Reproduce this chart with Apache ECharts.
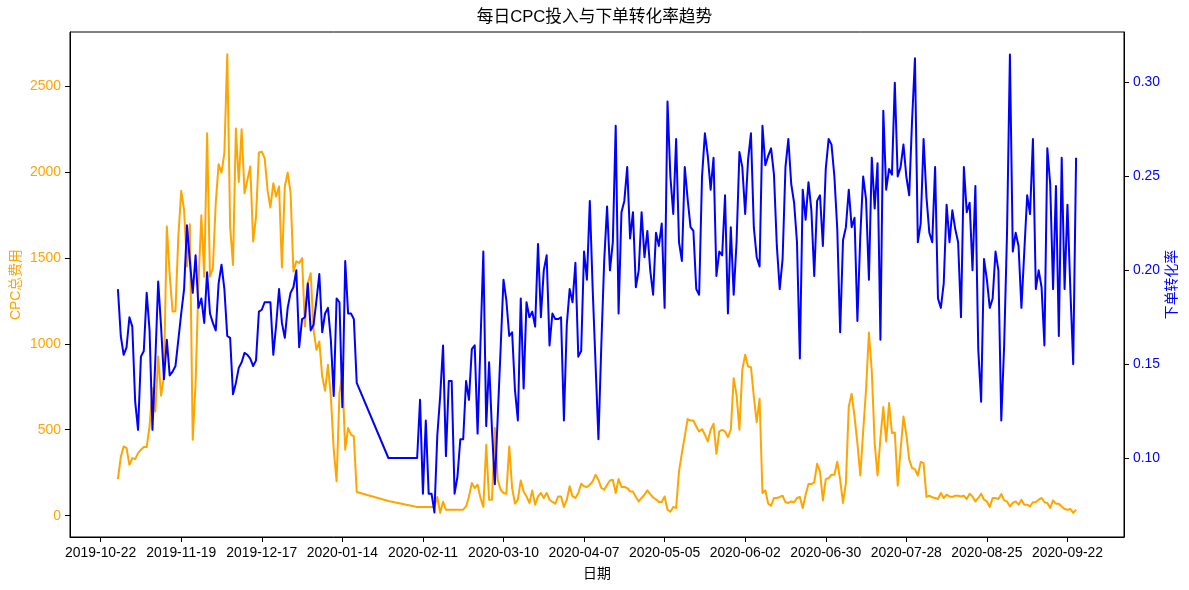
<!DOCTYPE html>
<html>
<head>
<meta charset="utf-8">
<script src="https://cdn.jsdelivr.net/npm/echarts@6/dist/echarts.min.js"></script>
<style>
  html, body { margin: 0; padding: 0; background: #fff; }
  #chart { width: 1189px; height: 590px; }
</style>
</head>
<body>
<div id="chart"></div>
<script>
// daily records, with a hole around the Spring Festival
const periods = [
  { start: '2019-10-28', days: 84 },
  { start: '2020-01-30', days: 1 },
  { start: '2020-02-09', days: 230 },
]

const tickDates = [
  '2019-10-22', '2019-11-19', '2019-12-17', '2020-01-14', '2020-02-11', '2020-03-10', '2020-04-07',
  '2020-05-05', '2020-06-02', '2020-06-30', '2020-07-28', '2020-08-25', '2020-09-22',
]
const costTicks = [0, 500, 1000, 1500, 2000, 2500]
const rateTicks = [0.10, 0.15, 0.20, 0.25, 0.30]

// CPC总费用
const cpcCost = [
  // 2019-10-28 .. 2020-01-19
  213, 341, 403, 393, 296, 335, 329, 364, 384, 399,
  399, 520, 742, 606, 926, 698, 810, 1682, 1400, 1188,
  1190, 1624, 1890, 1779, 1450, 1696, 442, 771, 1350, 1748,
  1390, 2225, 1390, 1440, 1818, 2045, 1996, 2109, 2684, 1682,
  1459, 2252, 1942, 2248, 1876, 1953, 2031, 1595, 1740, 2113,
  2118, 2080, 1895, 1793, 1934, 1857, 1915, 1444, 1915, 1996,
  1880, 1420, 1480, 1470, 1498, 1101, 1353, 1411, 1081, 965,
  1013, 810, 727, 878, 694, 384, 200, 713, 820, 384,
  510, 471, 461, 138,
  // 2020-01-30
  85,
  // 2020-02-09 .. 2020-09-25
  51, 51, 51, 50, 50, 50, 50, 109, 16, 81,
  35, 35, 35, 35, 35, 35, 35, 54, 112, 190,
  161, 180, 103, 51, 413, 93, 93, 510, 209, 151,
  132, 128, 403, 161, 70, 93, 205, 141, 112, 74,
  147, 64, 112, 132, 103, 132, 93, 80, 70, 112,
  112, 51, 93, 171, 112, 103, 132, 186, 171, 167,
  180, 200, 238, 209, 161, 151, 180, 205, 209, 132,
  213, 167, 167, 161, 141, 140, 109, 83, 103, 122,
  147, 125, 106, 95, 80, 80, 112, 35, 23, 51,
  45, 258, 364, 461, 562, 554, 554, 519, 490, 504,
  471, 432, 500, 535, 360, 490, 500, 490, 457, 500,
  800, 703, 500, 849, 936, 868, 864, 694, 543, 680,
  132, 147, 70, 58, 103, 103, 109, 116, 78, 74,
  83, 78, 103, 109, 45, 122, 184, 184, 194, 302,
  258, 89, 213, 219, 238, 238, 314, 209, 74, 190,
  636, 709, 577, 422, 234, 490, 733, 1066, 839, 422,
  234, 452, 632, 432, 655, 481, 484, 174, 380, 577,
  475, 326, 277, 271, 233, 312, 306, 109, 116, 107,
  103, 97, 132, 103, 122, 112, 109, 116, 116, 112,
  116, 97, 128, 112, 83, 103, 128, 93, 83, 51,
  103, 103, 97, 126, 89, 83, 54, 74, 83, 64,
  93, 64, 64, 54, 78, 80, 93, 103, 78, 74,
  45, 89, 70, 70, 54, 39, 35, 39, 16, 35,
]

// 下单转化率
const convRate = [
  // 2019-10-28 .. 2020-01-19
  0.190, 0.165, 0.155, 0.159, 0.175, 0.170, 0.130, 0.115, 0.154, 0.157,
  0.188, 0.168, 0.115, 0.152, 0.194, 0.170, 0.142, 0.163, 0.144, 0.146,
  0.149, 0.163, 0.177, 0.190, 0.224, 0.205, 0.188, 0.208, 0.180, 0.185,
  0.172, 0.199, 0.177, 0.172, 0.168, 0.193, 0.203, 0.190, 0.165, 0.164,
  0.134, 0.140, 0.148, 0.151, 0.156, 0.155, 0.153, 0.149, 0.152, 0.178,
  0.179, 0.183, 0.183, 0.183, 0.155, 0.171, 0.190, 0.172, 0.164, 0.180,
  0.188, 0.191, 0.200, 0.159, 0.174, 0.175, 0.193, 0.168, 0.171, 0.184,
  0.198, 0.167, 0.177, 0.180, 0.163, 0.133, 0.185, 0.183, 0.127, 0.205,
  0.177, 0.177, 0.174, 0.140,
  // 2020-01-30
  0.100,
  // 2020-02-09 .. 2020-09-25
  0.100, 0.131, 0.081, 0.120, 0.081, 0.081, 0.071, 0.112, 0.133, 0.160,
  0.101, 0.141, 0.141, 0.081, 0.090, 0.110, 0.110, 0.141, 0.131, 0.158,
  0.160, 0.113, 0.161, 0.210, 0.117, 0.151, 0.115, 0.086, 0.122, 0.158,
  0.195, 0.184, 0.165, 0.167, 0.136, 0.120, 0.185, 0.137, 0.183, 0.175,
  0.178, 0.170, 0.214, 0.175, 0.200, 0.208, 0.160, 0.177, 0.174, 0.174,
  0.175, 0.120, 0.171, 0.190, 0.183, 0.204, 0.154, 0.157, 0.210, 0.195,
  0.237, 0.190, 0.150, 0.110, 0.160, 0.205, 0.234, 0.200, 0.215, 0.277,
  0.177, 0.231, 0.237, 0.255, 0.217, 0.231, 0.191, 0.200, 0.231, 0.207,
  0.221, 0.200, 0.187, 0.220, 0.213, 0.225, 0.180, 0.290, 0.250, 0.230,
  0.270, 0.215, 0.205, 0.255, 0.238, 0.223, 0.221, 0.190, 0.187, 0.250,
  0.273, 0.261, 0.243, 0.260, 0.197, 0.210, 0.208, 0.240, 0.177, 0.223,
  0.187, 0.215, 0.263, 0.255, 0.230, 0.259, 0.273, 0.223, 0.207, 0.202,
  0.277, 0.256, 0.261, 0.265, 0.251, 0.213, 0.190, 0.206, 0.255, 0.270,
  0.246, 0.236, 0.215, 0.153, 0.243, 0.227, 0.247, 0.232, 0.197, 0.237,
  0.240, 0.213, 0.254, 0.270, 0.267, 0.250, 0.222, 0.167, 0.216, 0.223,
  0.243, 0.223, 0.228, 0.173, 0.218, 0.250, 0.238, 0.195, 0.260, 0.233,
  0.257, 0.163, 0.285, 0.243, 0.254, 0.251, 0.300, 0.250, 0.255, 0.267,
  0.250, 0.240, 0.280, 0.313, 0.215, 0.225, 0.270, 0.239, 0.220, 0.215,
  0.255, 0.185, 0.180, 0.193, 0.235, 0.215, 0.232, 0.222, 0.215, 0.175,
  0.255, 0.231, 0.236, 0.200, 0.245, 0.158, 0.130, 0.206, 0.195, 0.180,
  0.185, 0.210, 0.200, 0.120, 0.160, 0.220, 0.315, 0.210, 0.220, 0.213,
  0.180, 0.210, 0.240, 0.230, 0.270, 0.190, 0.200, 0.191, 0.160, 0.265,
  0.246, 0.190, 0.245, 0.165, 0.260, 0.190, 0.235, 0.190, 0.150, 0.260,
]

const FONT = "'Liberation Sans', 'Noto Sans CJK SC', sans-serif"
const DAY = 86400000

function parseDay(s) {
  const [y, m, d] = s.split('-').map(Number)
  return Date.UTC(y, m - 1, d)
}
function pad(n) { return n < 10 ? '0' + n : '' + n }
function fmtDay(t) {
  const d = new Date(t)
  return d.getUTCFullYear() + '-' + pad(d.getUTCMonth() + 1) + '-' + pad(d.getUTCDate())
}

const dates = []
periods.forEach(p => {
  const t0 = parseDay(p.start)
  for (let i = 0; i < p.days; i++) dates.push(t0 + i * DAY)
})
const tickTimes = tickDates.map(parseDay)

// matplotlib-style 5% margins
const span = dates[dates.length - 1] - dates[0]
const xMin = dates[0] - span * 0.05
const xMax = dates[dates.length - 1] + span * 0.05

const chart = echarts.init(document.getElementById('chart'), null, { renderer: 'canvas' })

chart.setOption({
  animation: false,
  backgroundColor: '#fff',
  title: {
    text: '每日CPC投入与下单转化率趋势',
    left: 'center',
    top: 9,
    padding: 0,
    textStyle: { color: '#000', fontSize: 16.7, fontWeight: 'normal', fontFamily: FONT },
  },
  grid: {
    left: 70, right: 65, top: 32, bottom: 53,
    outerBoundsMode: 'none',
    containLabel: false,
    show: true, borderColor: '#000', borderWidth: 1, backgroundColor: 'transparent',
  },
  xAxis: {
    type: 'value',
    min: xMin,
    max: xMax,
    name: '日期',
    nameLocation: 'middle',
    nameGap: 30,
    nameMoveOverlap: false,
    nameTextStyle: { color: '#000', fontSize: 13.9, fontFamily: FONT },
    axisLine: { show: true, onZero: false, lineStyle: { color: '#000', width: 1 } },
    axisTick: { show: true, inside: false, length: 5, customValues: tickTimes, lineStyle: { color: '#000' } },
    axisLabel: {
      customValues: tickTimes,
      formatter: v => fmtDay(v),
      color: '#000', fontSize: 13.9, margin: 9, fontFamily: FONT,
    },
    splitLine: { show: false },
  },
  yAxis: [
    {
      type: 'value',
      position: 'left',
      min: -124,
      max: 2814,
      name: 'CPC总费用',
      nameLocation: 'middle',
      nameGap: 47,
      nameMoveOverlap: false,
      nameTextStyle: { color: 'orange', fontSize: 13.9, fontFamily: FONT },
      axisLine: { show: true, onZero: false, lineStyle: { color: '#000', width: 1 } },
      axisTick: { show: true, inside: false, length: 5, customValues: costTicks, lineStyle: { color: '#000' } },
      axisLabel: {
        customValues: costTicks,
        formatter: v => String(v),
        color: 'orange', fontSize: 13.9, margin: 9, fontFamily: FONT,
      },
      splitLine: { show: false },
    },
    {
      type: 'value',
      position: 'right',
      min: 0.0579,
      max: 0.327,
      name: '下单转化率',
      nameLocation: 'middle',
      nameGap: 41,
      nameMoveOverlap: false,
      nameTextStyle: { color: 'blue', fontSize: 13.9, fontFamily: FONT },
      axisLine: { show: true, onZero: false, lineStyle: { color: '#000', width: 1 } },
      axisTick: { show: true, inside: false, length: 5, customValues: rateTicks, lineStyle: { color: '#000' } },
      axisLabel: {
        customValues: rateTicks,
        formatter: v => v.toFixed(2),
        color: 'blue', fontSize: 13.9, margin: 9, fontFamily: FONT,
      },
      splitLine: { show: false },
    },
  ],
  series: [
    {
      name: 'CPC总费用',
      type: 'line',
      yAxisIndex: 0,
      data: dates.map((t, i) => [t, cpcCost[i]]),
      symbol: 'none',
      showSymbol: false,
      lineStyle: { color: 'orange', width: 2, join: 'round' },
      itemStyle: { color: 'orange' },
    },
    {
      name: '下单转化率',
      type: 'line',
      yAxisIndex: 1,
      data: dates.map((t, i) => [t, convRate[i]]),
      symbol: 'none',
      showSymbol: false,
      lineStyle: { color: 'blue', width: 2, join: 'round' },
      itemStyle: { color: 'blue' },
    },
  ],
})
</script>
</body>
</html>
